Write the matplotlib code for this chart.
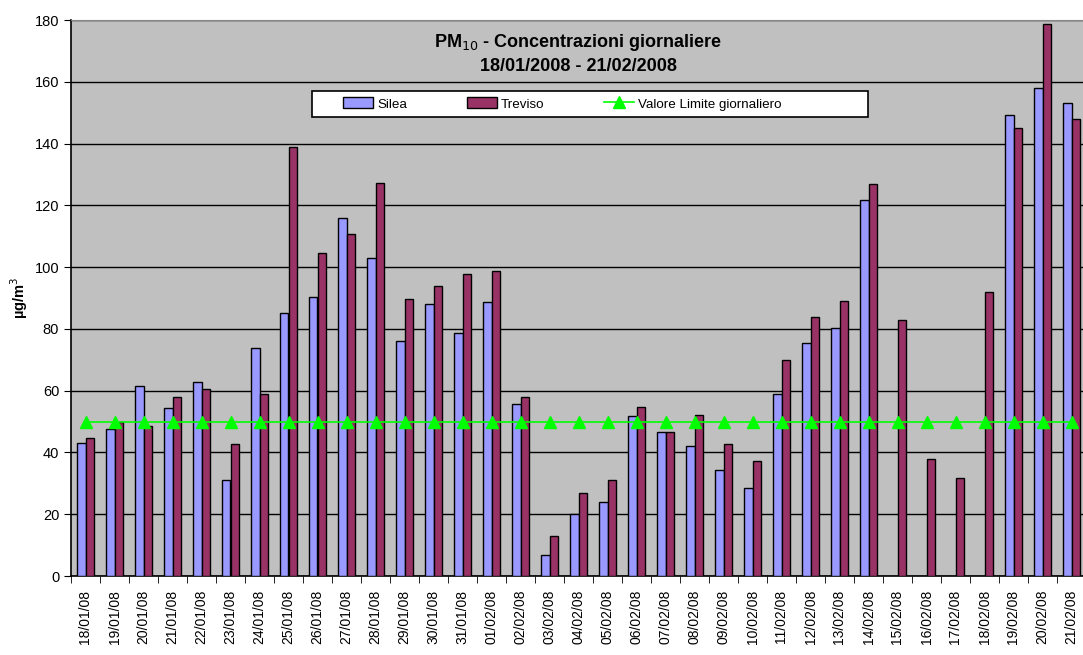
import matplotlib.pyplot as plt
from matplotlib.patches import Rectangle
import numpy as np

plt.rcParams['font.family'] = ['Liberation Sans', 'DejaVu Sans']

dates = ['18/01/08', '19/01/08', '20/01/08', '21/01/08', '22/01/08', '23/01/08',
         '24/01/08', '25/01/08', '26/01/08', '27/01/08', '28/01/08', '29/01/08',
         '30/01/08', '31/01/08', '01/02/08', '02/02/08', '03/02/08', '04/02/08',
         '05/02/08', '06/02/08', '07/02/08', '08/02/08', '09/02/08', '10/02/08',
         '11/02/08', '12/02/08', '13/02/08', '14/02/08', '15/02/08', '16/02/08',
         '17/02/08', '18/02/08', '19/02/08', '20/02/08', '21/02/08']
silea = [43, 47.5, 61.6, 54.4, 62.8, 31.1, 73.7, 85, 90.3, 116, 103.1, 76.1,
         88.2, 78.6, 88.6, 55.6, 6.9, 20.2, 23.8, 51.7, 46.7, 42, 34.3, 28.6,
         58.9, 75.3, 80.3, 121.7, np.nan, np.nan, np.nan, np.nan, 149.1, 157.9, 153.2]
treviso = [44.7, 49.7, 48.7, 58, 60.7, 42.6, 58.9, 139, 104.7, 110.8, 127.3, 89.8,
           93.9, 97.9, 98.6, 58, 12.9, 27, 31.1, 54.8, 46.7, 52, 42.6, 37.1,
           69.8, 83.9, 89, 126.9, 83, 37.9, 31.8, 91.8, 145, 178.8, 147.8]
limite = [50] * len(dates)

x = np.arange(len(dates))
w = 0.3

fig = plt.figure(figsize=(10.83, 6.55), dpi=100)
ax = fig.add_axes([71/1083, 1-576/655, 1015/1083, 556/655])
ax.set_facecolor('#C0C0C0')

b1 = ax.bar(x - w/2, silea, w, color='#9999FF', edgecolor='black', linewidth=1, label='Silea', zorder=3)
b2 = ax.bar(x + w/2, treviso, w, color='#993366', edgecolor='black', linewidth=1, label='Treviso', zorder=3)
l1, = ax.plot(x, limite, color='#00FF00', marker='^', markersize=9, linewidth=1.2,
              label='Valore Limite giornaliero', zorder=4)

ax.set_xlim(-0.5, len(dates) - 0.5)
ax.set_ylim(0, 180)
ax.set_yticks(range(0, 181, 20))
ax.yaxis.grid(True, color='black', linewidth=1)
ax.set_axisbelow(True)

# labels at centres, tick marks at category boundaries
ax.set_xticks(x)
ax.set_xticklabels(dates, rotation=90, fontsize=10)
ax.tick_params(axis='x', which='major', length=0, pad=10)
ax.set_xticks(np.arange(-0.5, len(dates)), minor=True)
ax.tick_params(axis='x', which='minor', length=5, direction='out')
ax.tick_params(axis='y', labelsize=10.5, length=5, direction='out')

for s in ['top', 'right']:
    ax.spines[s].set_color('#888888')
ax.spines['left'].set_linewidth(1.2)
ax.spines['bottom'].set_linewidth(1.2)

ax.set_ylabel('µg/m$^3$', fontsize=10.5, fontweight='bold')
ax.yaxis.set_label_coords(-0.040, 0.5)

ax.text(0.5, 0.978, 'PM$_{10}$ - Concentrazioni giornaliere\n18/01/2008 - 21/02/2008',
        transform=ax.transAxes, ha='center', va='top', fontsize=13,
        fontweight='bold', linespacing=1.4)

# legend box drawn separately so it can be wider than its entries
fig.patches.append(Rectangle((312/1083, 1-117/655), 556/1083, 26/655, transform=fig.transFigure,
                             facecolor='white', edgecolor='black', linewidth=1.2, zorder=5))
leg = fig.legend(handles=[b1, b2, l1], loc='center left', ncol=3,
                 bbox_to_anchor=(331/1083, 1-104/655), fontsize=9.6, frameon=False,
                 handlelength=2.25, handleheight=0.9, handletextpad=0.3, columnspacing=4.5)
leg.set_zorder(6)

fig.savefig('out.png', dpi=100)
